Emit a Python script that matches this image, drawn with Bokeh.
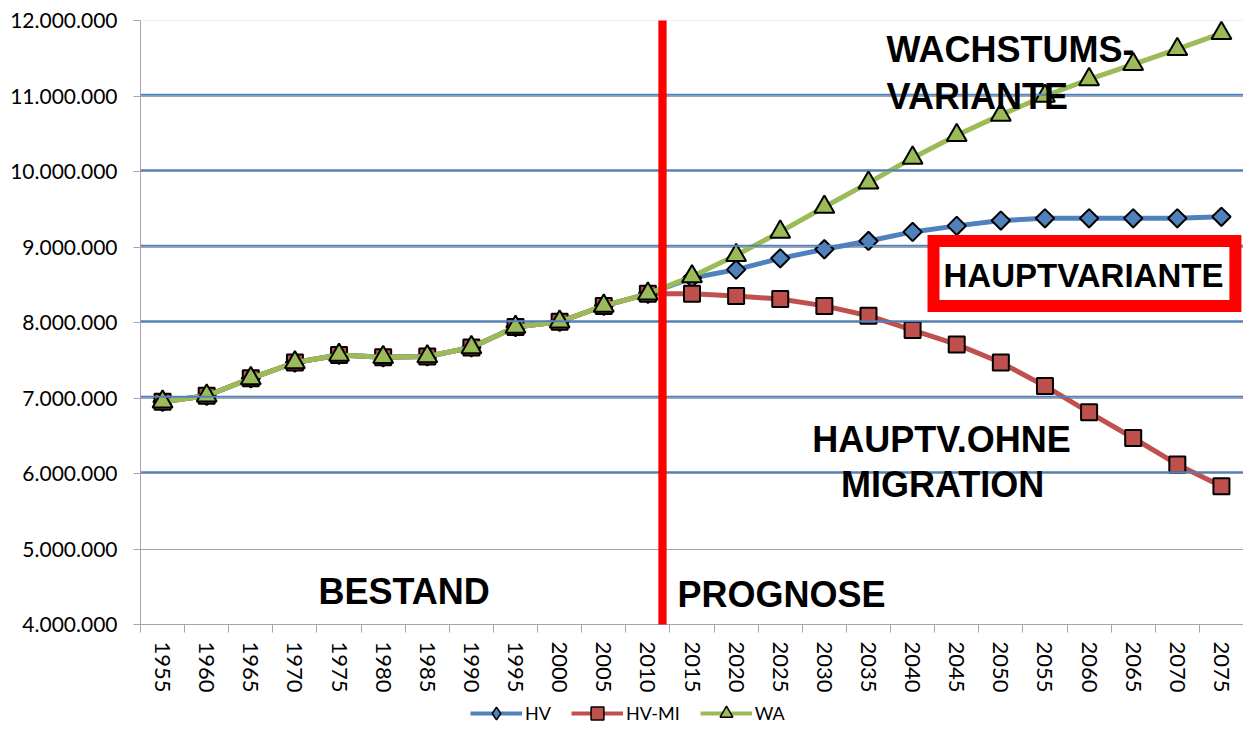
import numpy as np
from bokeh.plotting import figure
from bokeh.layouts import column
from bokeh.models import (FixedTicker, Range1d, Span, Label, Legend, LegendItem)
from bokeh.embed import file_html
from bokeh.resources import INLINE

# ---------------- data ----------------
years = ["1955", "1960", "1965", "1970", "1975", "1980", "1985", "1990", "1995",
         "2000", "2005", "2010", "2015", "2020", "2025", "2030", "2035", "2040",
         "2045", "2050", "2055", "2060", "2065", "2070", "2075"]

history = [6.95, 7.03, 7.26, 7.47, 7.57, 7.54, 7.55, 7.67, 7.94, 8.01, 8.22, 8.38]

hv_future = [8.59, 8.70, 8.85, 8.97, 9.08, 9.20, 9.28, 9.35, 9.38, 9.38, 9.38, 9.38, 9.40]
hv_mi_future = [8.38, 8.35, 8.31, 8.22, 8.09, 7.90, 7.71, 7.47, 7.16, 6.81, 6.47, 6.12, 5.83]
wa_future = [8.61, 8.89, 9.20, 9.53, 9.85, 10.18, 10.48, 10.75, 11.00, 11.22, 11.42, 11.62, 11.83]

hv = [v * 1e6 for v in history + hv_future]
hv_mi = [v * 1e6 for v in history + hv_mi_future]
wa = [v * 1e6 for v in history + wa_future]

series_names = ["HV", "HV-MI", "WA"]

y_ticks = [4e6, 5e6, 6e6, 7e6, 8e6, 9e6, 10e6, 11e6, 12e6]
y_tick_labels = ["4.000.000", "5.000.000", "6.000.000", "7.000.000", "8.000.000",
                 "9.000.000", "10.000.000", "11.000.000", "12.000.000"]
blue_lines = [6e6, 7e6, 8e6, 9e6, 10e6, 11e6, 12e6]

idx = list(range(len(years)))

BLUE = "#4F81BD"
RED = "#C0504D"
GREEN = "#9BBB59"
GREY = "#A6A6A6"

styles = [
    dict(color=BLUE, marker="square", angle=np.pi / 4, size=13, legend_marker="diamond"),
    dict(color=RED, marker="square", angle=0.0, size=16, legend_marker="square"),
    dict(color=GREEN, marker="triangle", angle=0.0, size=20, legend_marker="triangle"),
]

p = figure(width=1243, height=695, output_backend="svg", toolbar_location=None,
           x_range=Range1d(-0.5, len(years) - 0.5), y_range=Range1d(4e6, 12e6),
           min_border_left=140, min_border_right=0, min_border_top=20,
           min_border_bottom=70)
p.outline_line_color = None
p.background_fill_color = "white"
p.border_fill_color = "white"

# axes
p.xaxis.ticker = FixedTicker(ticks=idx, minor_ticks=[i - 0.5 for i in range(len(years) + 1)])
p.xaxis.major_label_overrides = {i: years[i] for i in idx}
p.xaxis.major_label_orientation = "vertical"
p.xaxis.major_tick_line_color = None
p.xaxis.major_tick_out = 8
p.xaxis.major_tick_in = 0
p.xaxis.minor_tick_line_color = GREY
p.xaxis.minor_tick_out = 8
p.xaxis.minor_tick_in = 0
p.xaxis.axis_line_color = GREY
p.xaxis.major_label_standoff = 9
p.xaxis.major_label_text_font = "Lato"
p.xaxis.major_label_text_font_size = "22px"
p.xaxis.major_label_text_color = "black"

p.yaxis.ticker = FixedTicker(ticks=y_ticks, minor_ticks=[])
p.yaxis.major_label_overrides = {t: s for t, s in zip(y_ticks, y_tick_labels)}
p.yaxis.major_tick_line_color = GREY
p.yaxis.major_tick_out = 7
p.yaxis.major_tick_in = 0
p.yaxis.minor_tick_line_color = None
p.yaxis.axis_line_color = GREY
p.yaxis.major_label_standoff = 16
p.yaxis.major_label_text_font = "Lato"
p.yaxis.major_label_text_font_size = "21px"
p.yaxis.major_label_text_color = "black"

p.xgrid.grid_line_color = None
p.ygrid.grid_line_color = GREY
p.ygrid.grid_line_width = 1

for v in blue_lines:
    p.add_layout(Span(location=v + 15000, dimension="width", line_color=BLUE,
                      line_width=2))

# series
for vals, st in zip([hv, hv_mi, wa], styles):
    p.line(idx, vals, line_color=st["color"], line_width=5)
    p.scatter(idx, vals, marker=st["marker"], angle=st["angle"], size=st["size"],
              fill_color=st["color"], line_color="black", line_width=2)

# red divider between history and projection (reaches down over the tick labels)
p.add_layout(Label(x=11.331, y=7.577e6, text=" ", text_font_size="1px",
                   text_align="center", text_baseline="middle",
                   background_fill_color="#FF0000", background_fill_alpha=1.0,
                   padding=dict(left=4, right=4, top=334, bottom=334)))

# text labels
def lab(x, y, t, align="left", size="36px", **kw):
    p.add_layout(Label(x=x, y=y, text=t, text_font="Liberation Sans",
                       text_font_style="bold", text_font_size=size,
                       text_color="black", text_align=align,
                       text_baseline="middle", **kw))

lab(3.534, 4.443e6, "BESTAND")
lab(11.671, 4.403e6, "PROGNOSE")
lab(16.41, 11.610e6, "WACHSTUMS-")
lab(16.41, 10.988e6, "VARIANTE")
lab(17.655, 6.453e6, "HAUPTV.OHNE", align="center")
lab(17.68, 5.858e6, "MIGRATION", align="center")
lab(17.474, 8.648e6, "HAUPTVARIANTE", size="33px",
    border_line_color="#FF0000", border_line_width=12,
    border_line_join="miter", background_fill_color="white",
    padding=dict(left=10, right=12, top=16, bottom=12))

# ---------------- legend strip below the chart ----------------
p2 = figure(width=1243, height=34, output_backend="svg", toolbar_location=None,
            x_range=Range1d(0, 1), y_range=Range1d(0, 1), min_border=0,
            x_axis_type=None, y_axis_type=None)
p2.outline_line_color = None
p2.grid.visible = False

items = []
for name, st in zip(series_names, styles):
    # legend proxies: one point placed outside the strip's visible range
    rl = p2.line(x=[-5, -4], y=[-5, -5], line_color=st["color"], line_width=4)
    rs = p2.scatter(x=[-5], y=[-5], marker=st["legend_marker"],
                    size=st["size"], fill_color=st["color"], line_color="black",
                    line_width=1.5)
    items.append(LegendItem(label=name, renderers=[rl, rs]))

legend = Legend(items=items, orientation="horizontal", location=(330, 0),
                label_text_font="Lato", label_text_font_size="18px",
                label_text_color="black",
                glyph_width=52, glyph_height=32, label_standoff=3, spacing=20,
                padding=1, margin=0, border_line_color=None,
                background_fill_alpha=0)
p2.add_layout(legend)

layout = column(p, p2, spacing=0)
open("out.html", "w").write(file_html(layout, INLINE))
